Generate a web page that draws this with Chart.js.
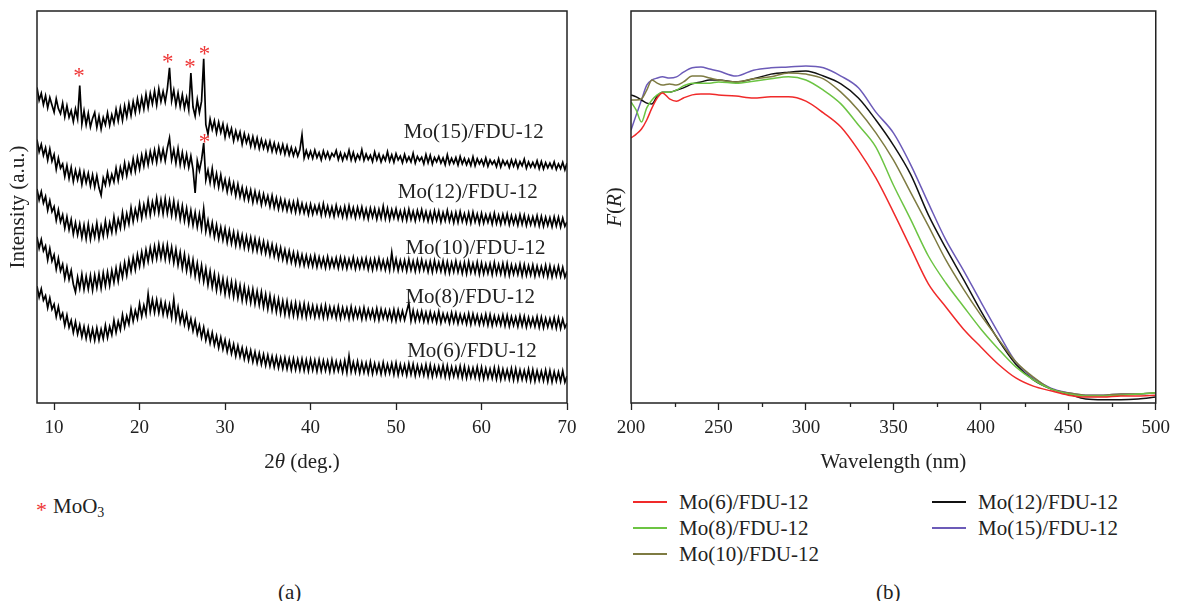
<!DOCTYPE html>
<html>
<head>
<meta charset="utf-8">
<script src="https://cdn.jsdelivr.net/npm/chart.js@4.4.1/dist/chart.umd.min.js"></script>
<style>
  body { margin: 0; background: #fff; width: 1177px; height: 601px; position: relative; overflow: hidden;
         font-family: "Liberation Serif", serif; color: #222; }
  canvas { position: absolute; top: 0; }
  #xrd { left: 0; }
  #uv { left: 600px; }
  .txt { position: absolute; font-size: 21px; line-height: 1; white-space: nowrap; transform: translateY(-50%); }
  .key { position: absolute; width: 34px; height: 2px; transform: translateY(-50%); }
  sub { font-size: 14px; vertical-align: -4px; }
</style>
</head>
<body>
<canvas id="xrd" width="600" height="480"></canvas>
<canvas id="uv" width="577" height="480"></canvas>
<div id="legend-uv"></div>
<div class="txt" style="left:36px;top:510px;color:#ee3535;font-size:22px;">*</div>
<div class="txt" style="left:53px;top:508px;">MoO<sub>3</sub></div>
<div class="txt" style="left:278px;top:592px;">(a)</div>
<div class="txt" style="left:876px;top:592px;">(b)</div>
<script>
// ---- (a) XRD patterns, 2θ every 0.25° ----
const twoTheta = [
  8, 8.25, 8.5, 8.75, 9, 9.25, 9.5, 9.75, 10, 10.25, 10.5, 10.75, 11, 11.25, 11.5, 11.75, 12, 12.25, 12.5, 12.75,
  13, 13.25, 13.5, 13.75, 14, 14.25, 14.5, 14.75, 15, 15.25, 15.5, 15.75, 16, 16.25, 16.5, 16.75, 17, 17.25, 17.5, 17.75,
  18, 18.25, 18.5, 18.75, 19, 19.25, 19.5, 19.75, 20, 20.25, 20.5, 20.75, 21, 21.25, 21.5, 21.75, 22, 22.25, 22.5, 22.75,
  23, 23.25, 23.5, 23.75, 24, 24.25, 24.5, 24.75, 25, 25.25, 25.5, 25.75, 26, 26.25, 26.5, 26.75, 27, 27.25, 27.5, 27.75,
  28, 28.25, 28.5, 28.75, 29, 29.25, 29.5, 29.75, 30, 30.25, 30.5, 30.75, 31, 31.25, 31.5, 31.75, 32, 32.25, 32.5, 32.75,
  33, 33.25, 33.5, 33.75, 34, 34.25, 34.5, 34.75, 35, 35.25, 35.5, 35.75, 36, 36.25, 36.5, 36.75, 37, 37.25, 37.5, 37.75,
  38, 38.25, 38.5, 38.75, 39, 39.25, 39.5, 39.75, 40, 40.25, 40.5, 40.75, 41, 41.25, 41.5, 41.75, 42, 42.25, 42.5, 42.75,
  43, 43.25, 43.5, 43.75, 44, 44.25, 44.5, 44.75, 45, 45.25, 45.5, 45.75, 46, 46.25, 46.5, 46.75, 47, 47.25, 47.5, 47.75,
  48, 48.25, 48.5, 48.75, 49, 49.25, 49.5, 49.75, 50, 50.25, 50.5, 50.75, 51, 51.25, 51.5, 51.75, 52, 52.25, 52.5, 52.75,
  53, 53.25, 53.5, 53.75, 54, 54.25, 54.5, 54.75, 55, 55.25, 55.5, 55.75, 56, 56.25, 56.5, 56.75, 57, 57.25, 57.5, 57.75,
  58, 58.25, 58.5, 58.75, 59, 59.25, 59.5, 59.75, 60, 60.25, 60.5, 60.75, 61, 61.25, 61.5, 61.75, 62, 62.25, 62.5, 62.75,
  63, 63.25, 63.5, 63.75, 64, 64.25, 64.5, 64.75, 65, 65.25, 65.5, 65.75, 66, 66.25, 66.5, 66.75, 67, 67.25, 67.5, 67.75,
  68, 68.25, 68.5, 68.75, 69, 69.25, 69.5, 69.75, 70];

const mo15 = [
  80.5, 77.2, 79.0, 76.1, 78.4, 75.3, 77.9, 76.0, 74.2, 77.6, 75.1, 73.8, 76.5, 73.0, 75.8, 72.9, 74.6, 71.8, 75.0, 72.5,
  81.0, 71.2, 74.5, 71.0, 73.9, 70.4, 72.6, 74.1, 70.3, 73.2, 69.9, 72.8, 71.0, 74.0, 70.8, 73.5, 71.4, 74.9, 72.0, 75.3,
  72.1, 75.8, 73.0, 76.4, 73.4, 76.9, 74.1, 77.6, 74.6, 77.9, 75.0, 78.8, 75.4, 79.0, 76.3, 79.6, 76.0, 80.1, 76.9, 79.5,
  76.8, 80.2, 85.5, 77.1, 79.8, 76.0, 79.1, 75.6, 78.6, 75.2, 77.9, 74.8, 84.2, 75.5, 73.2, 77.4, 74.1, 77.0, 87.8, 71.0,
  68.6, 72.4, 69.8, 72.0, 68.9, 71.6, 69.0, 71.2, 67.8, 70.6, 68.1, 70.0, 66.9, 69.4, 67.2, 69.1, 66.0, 68.7, 66.4, 68.2,
  65.5, 67.9, 65.3, 67.6, 64.9, 67.2, 65.0, 66.8, 64.5, 66.7, 64.2, 66.3, 64.0, 66.0, 63.8, 65.9, 63.5, 65.6, 63.3, 65.2,
  63.1, 64.9, 63.0, 64.6, 68.4, 62.5, 64.4, 62.6, 64.2, 62.4, 64.5, 62.6, 63.9, 62.0, 64.3, 62.5, 64.0, 62.2, 63.7, 62.9,
  64.4, 62.1, 63.8, 61.9, 63.6, 62.3, 64.5, 62.0, 63.9, 61.8, 63.4, 62.2, 64.6, 61.9, 63.5, 62.1, 63.2, 61.6, 64.0, 62.0,
  63.5, 61.5, 63.1, 61.9, 64.1, 61.7, 63.3, 61.4, 63.6, 62.0, 63.0, 61.3, 63.4, 61.6, 62.8, 61.5, 63.7, 61.2, 62.9, 61.8,
  62.7, 61.0, 63.4, 61.3, 63.2, 60.9, 62.6, 61.5, 62.9, 61.2, 62.5, 60.8, 63.3, 61.0, 62.4, 61.1, 62.6, 60.7, 62.9, 61.0,
  62.4, 60.8, 62.2, 60.6, 62.8, 60.5, 62.3, 61.0, 62.1, 60.6, 62.5, 60.4, 62.0, 60.9, 61.8, 60.3, 62.3, 60.2, 61.9, 60.7,
  61.7, 60.1, 62.0, 60.4, 61.9, 60.0, 61.6, 60.5, 62.2, 59.9, 61.5, 60.2, 61.4, 60.1, 61.8, 59.8, 61.6, 59.7, 61.3, 60.0,
  61.2, 59.9, 61.5, 59.6, 61.0, 59.8, 61.4, 59.5, 61.2];

const mo12 = [
  67.2, 64.1, 66.0, 63.2, 65.1, 62.0, 64.8, 61.7, 63.4, 59.6, 62.5, 59.9, 61.0, 57.8, 60.6, 57.3, 60.1, 56.5, 59.4, 56.9,
  59.3, 55.8, 58.9, 56.2, 58.6, 55.4, 58.2, 55.1, 58.0, 54.9, 53.0, 57.4, 55.6, 58.8, 55.9, 58.3, 56.4, 59.9, 56.8, 60.1,
  57.7, 61.2, 58.0, 61.0, 58.8, 62.3, 59.1, 62.6, 59.7, 63.2, 60.4, 63.8, 60.8, 64.1, 61.5, 64.5, 61.4, 65.0, 62.0, 64.7,
  61.8, 65.1, 67.6, 62.0, 64.6, 61.2, 64.9, 60.8, 63.9, 60.5, 63.4, 60.1, 63.0, 59.6, 53.6, 61.8, 59.3, 62.0, 66.3, 56.9,
  59.4, 56.2, 59.8, 55.6, 58.5, 55.1, 58.2, 54.7, 57.0, 53.9, 56.8, 53.7, 56.1, 52.9, 55.8, 52.6, 55.0, 52.0, 54.6, 51.8,
  54.3, 51.2, 54.0, 51.3, 53.6, 50.6, 53.3, 50.8, 52.8, 50.1, 52.9, 49.9, 52.3, 49.5, 52.0, 49.4, 51.7, 49.1, 51.4, 48.9,
  51.3, 48.7, 51.5, 48.6, 50.9, 48.5, 50.6, 48.1, 50.7, 48.2, 50.3, 48.4, 50.5, 47.9, 50.8, 48.0, 50.2, 47.8, 50.0, 47.6,
  50.4, 47.9, 49.8, 47.5, 50.1, 47.4, 50.3, 47.7, 49.8, 47.3, 49.9, 47.6, 50.0, 47.2, 49.5, 47.0, 49.7, 47.4, 49.6, 46.9,
  49.4, 47.1, 50.2, 47.0, 49.6, 46.8, 49.3, 47.2, 49.5, 46.9, 49.0, 46.7, 49.2, 46.6, 49.4, 46.8, 48.9, 46.5, 49.1, 46.9,
  49.3, 46.7, 48.8, 46.4, 48.7, 46.3, 49.0, 46.6, 48.9, 46.2, 48.6, 46.5, 49.1, 46.4, 48.5, 46.0, 48.6, 46.1, 48.8, 46.3,
  48.3, 46.0, 48.5, 45.9, 48.7, 46.2, 48.2, 45.8, 48.4, 45.9, 48.0, 46.1, 48.1, 45.7, 48.4, 45.8, 47.9, 45.6, 48.1, 45.9,
  48.2, 45.5, 47.8, 45.7, 47.7, 45.4, 48.0, 45.6, 47.9, 45.3, 47.6, 45.5, 47.5, 45.4, 47.8, 45.2, 47.6, 45.1, 47.4, 45.3,
  47.3, 45.0, 47.5, 45.2, 47.4, 44.9, 47.2, 45.1, 46.2];

const mo10 = [
  54.6, 51.8, 53.9, 51.0, 52.7, 49.2, 51.6, 48.8, 50.1, 46.6, 49.3, 46.2, 48.0, 44.6, 47.5, 44.2, 46.8, 43.1, 46.0, 42.9,
  45.7, 42.2, 45.4, 41.9, 45.6, 41.8, 45.0, 42.3, 45.9, 42.0, 45.2, 42.6, 46.4, 42.9, 46.0, 43.5, 47.5, 43.8, 46.9, 44.6,
  48.6, 45.0, 48.3, 45.7, 49.8, 46.3, 49.4, 47.0, 50.8, 47.2, 50.6, 47.9, 51.7, 48.0, 51.3, 48.6, 52.3, 48.5, 51.8, 48.3,
  52.1, 48.4, 51.6, 47.9, 51.5, 47.6, 50.8, 46.9, 50.3, 46.5, 49.7, 45.8, 49.1, 45.4, 48.6, 44.9, 48.2, 44.5, 49.5, 43.8,
  46.6, 43.1, 46.0, 42.4, 45.4, 41.9, 44.8, 41.6, 44.5, 41.0, 44.0, 40.7, 43.6, 40.2, 43.3, 40.0, 42.8, 39.6, 42.5, 39.4,
  42.2, 39.0, 41.9, 38.8, 41.6, 38.5, 41.2, 38.2, 40.8, 37.7, 40.4, 37.4, 40.0, 36.9, 39.6, 36.6, 39.1, 36.1, 38.8, 35.9,
  38.4, 35.5, 38.2, 35.3, 37.8, 35.1, 37.6, 35.0, 37.4, 34.9, 37.6, 34.7, 37.2, 34.8, 37.0, 34.5, 37.3, 34.6, 36.8, 34.7,
  37.0, 34.4, 37.1, 34.5, 36.9, 34.3, 36.7, 34.6, 37.1, 34.2, 36.6, 34.4, 36.8, 34.5, 36.9, 34.1, 36.6, 34.0, 36.7, 34.3,
  36.9, 34.2, 36.4, 34.0, 36.5, 33.9, 38.4, 34.2, 36.7, 33.8, 36.3, 34.0, 36.4, 33.7, 36.6, 33.9, 36.2, 33.6, 36.4, 33.8,
  36.5, 33.9, 36.0, 33.5, 36.1, 33.4, 36.3, 33.7, 35.9, 33.6, 36.2, 33.3, 36.0, 33.2, 35.8, 33.5, 36.2, 33.4, 35.7, 33.1,
  35.8, 33.0, 36.0, 33.3, 35.6, 33.2, 35.9, 32.9, 35.7, 33.0, 35.4, 33.1, 35.5, 32.8, 35.8, 33.0, 35.3, 32.9, 35.6, 32.7,
  35.6, 32.6, 35.2, 32.9, 35.1, 32.8, 35.4, 32.5, 35.3, 32.6, 35.0, 32.7, 35.2, 32.4, 34.9, 32.6, 34.8, 32.5, 35.1, 32.3,
  35.0, 32.2, 34.7, 32.4, 34.9, 32.3, 34.6, 32.1, 33.6];

const mo8 = [
  42.4, 39.5, 41.7, 38.8, 40.1, 36.5, 39.4, 36.2, 37.8, 34.1, 36.9, 33.7, 35.4, 31.8, 34.7, 31.5, 33.8, 30.3, 28.3, 32.1,
  29.2, 32.8, 29.0, 32.3, 29.1, 32.5, 28.8, 32.6, 29.4, 32.9, 29.3, 33.2, 29.9, 33.4, 30.0, 33.8, 30.8, 34.4, 31.1, 35.0,
  32.1, 35.8, 32.6, 36.5, 33.6, 37.1, 34.0, 37.8, 34.9, 38.5, 35.3, 39.1, 36.1, 39.6, 36.5, 40.0, 36.8, 40.4, 37.0, 40.2,
  36.7, 40.3, 36.5, 39.7, 35.8, 39.2, 35.2, 38.4, 34.4, 37.9, 33.8, 37.0, 33.0, 36.5, 32.4, 35.6, 31.6, 35.1, 31.0, 34.3,
  30.1, 33.6, 29.6, 32.9, 28.8, 32.3, 28.5, 31.7, 27.8, 31.3, 27.6, 30.9, 27.1, 30.6, 26.8, 30.0, 26.2, 29.7, 26.0, 29.1,
  25.6, 29.0, 25.3, 28.5, 25.0, 28.3, 24.5, 27.7, 24.0, 27.4, 23.7, 26.8, 23.3, 26.5, 22.9, 26.0, 22.6, 25.9, 22.4, 25.4,
  22.3, 25.5, 22.1, 25.2, 22.1, 25.3, 21.9, 25.0, 22.2, 24.8, 21.9, 24.6, 22.0, 24.7, 21.8, 24.9, 21.8, 24.5, 22.1, 24.4,
  21.7, 24.6, 21.6, 24.3, 21.9, 24.2, 21.5, 24.5, 21.6, 24.1, 21.8, 24.0, 21.4, 24.3, 21.5, 23.9, 21.7, 23.8, 21.3, 24.1,
  21.2, 23.9, 21.6, 23.7, 21.4, 23.6, 21.1, 23.8, 21.0, 23.7, 21.3, 23.5, 21.2, 23.4, 25.5, 21.0, 23.6, 20.9, 23.3, 21.1,
  23.4, 20.8, 23.1, 20.7, 23.2, 20.9, 22.9, 20.6, 23.3, 20.5, 22.8, 20.8, 22.7, 20.4, 23.0, 20.6, 22.9, 20.3, 22.6, 20.5,
  22.5, 20.2, 22.8, 20.1, 22.7, 20.3, 22.4, 20.0, 22.3, 20.1, 22.6, 19.9, 22.5, 19.8, 22.2, 20.0, 22.1, 19.9, 22.4, 19.7,
  22.3, 19.6, 22.0, 19.8, 21.9, 19.5, 22.2, 19.7, 22.1, 19.4, 21.8, 19.6, 21.7, 19.5, 22.0, 19.3, 21.9, 19.2, 21.6, 19.4,
  21.5, 19.3, 21.8, 19.1, 21.7, 19.0, 21.4, 19.2, 20.4];

const mo6 = [
  29.8, 27.0, 29.1, 26.2, 27.4, 24.3, 26.8, 23.9, 25.2, 22.0, 24.6, 21.6, 22.9, 19.8, 22.4, 19.3, 21.1, 18.0, 20.7, 17.6,
  19.9, 16.9, 19.5, 16.5, 19.3, 16.2, 18.9, 16.0, 19.1, 16.1, 18.8, 16.4, 19.8, 16.7, 19.5, 17.4, 21.1, 18.0, 20.8, 18.7,
  22.5, 19.4, 22.2, 20.1, 24.0, 20.9, 23.6, 21.5, 25.3, 22.1, 24.9, 22.6, 27.8, 23.3, 26.4, 23.1, 26.3, 23.0, 25.9, 22.6,
  25.5, 22.4, 25.1, 21.8, 26.5, 21.3, 24.4, 20.6, 23.1, 20.0, 22.6, 19.2, 21.5, 18.4, 21.0, 17.6, 19.8, 16.7, 19.3, 16.0,
  18.3, 15.3, 17.9, 14.8, 17.1, 14.1, 16.7, 13.7, 16.1, 13.1, 15.6, 12.6, 15.0, 12.0, 14.6, 11.8, 14.1, 11.2, 13.7, 10.9,
  13.4, 10.5, 13.0, 10.2, 12.7, 9.9, 12.4, 9.6, 12.2, 9.4, 11.9, 9.2, 11.8, 9.0, 11.5, 8.8, 11.5, 8.7, 11.3, 8.5,
  11.3, 8.5, 11.1, 8.4, 11.2, 8.3, 11.0, 8.2, 11.1, 8.4, 10.9, 8.1, 11.0, 8.2, 10.8, 8.3, 10.7, 8.0, 11.0, 8.1,
  10.6, 8.2, 10.5, 7.9, 10.8, 7.8, 12.0, 8.0, 10.4, 7.9, 10.6, 7.7, 10.3, 7.8, 10.2, 7.6, 10.5, 7.5, 10.1, 7.7,
  10.0, 7.4, 10.3, 7.5, 9.9, 7.6, 10.1, 7.3, 10.2, 7.2, 9.8, 7.4, 9.7, 7.1, 10.0, 7.3, 9.9, 7.0, 9.6, 7.2,
  9.5, 7.1, 9.8, 6.9, 9.7, 6.8, 9.4, 7.0, 9.3, 6.9, 9.6, 6.7, 9.5, 6.6, 9.2, 6.8, 9.1, 6.7, 9.4, 6.5,
  9.3, 6.4, 9.0, 6.6, 8.9, 6.5, 9.2, 6.3, 9.1, 6.2, 8.8, 6.4, 8.7, 6.3, 9.0, 6.1, 8.9, 6.0, 8.6, 6.2,
  8.5, 6.1, 8.8, 5.9, 8.7, 5.8, 8.4, 6.0, 8.3, 5.9, 8.6, 5.7, 8.5, 5.6, 8.2, 5.8, 8.1, 5.7, 8.4, 5.5,
  8.3, 5.4, 8.0, 5.6, 7.9, 5.5, 8.2, 5.3, 6.9];

const xrdSeries = [mo15, mo12, mo10, mo8, mo6];
const xrdNames = ['Mo(15)/FDU-12', 'Mo(12)/FDU-12', 'Mo(10)/FDU-12', 'Mo(8)/FDU-12', 'Mo(6)/FDU-12'];
const xrdLabelTheta = [50.9, 50.2, 51.1, 51.1, 51.3];
const xrdLabelLevel = [68.9, 53.8, 39.3, 27.0, 13.2];
const xrdTicks = [10, 20, 30, 40, 50, 60, 70];

// MoO3 reflections marked with red asterisks
const starTheta = [12.9, 23.3, 25.9, 27.6, 27.6];
const starLevel = [84.4, 88.0, 86.7, 89.8, 67.6];

// ---- (b) UV-vis spectra ----
const wavelength = [200, 203, 206, 209, 212, 215, 218, 222, 226, 230, 235, 240, 245, 250, 260, 270, 280, 290, 300, 310,
  320, 330, 340, 350, 360, 370, 380, 390, 400, 410, 420, 430, 440, 450, 460, 470, 480, 490, 500];
const uv6 = [67.6, 68.6, 69.9, 72.2, 75.3, 77.8, 79.1, 77.6, 77.0, 77.8, 78.6, 78.8, 78.8, 78.6, 78.3, 77.8, 78.1, 78.1, 77.0, 74.0,
  70.4, 64.5, 57.4, 48.7, 39.5, 30.4, 24.5, 18.9, 14.3, 9.9, 6.4, 4.3, 3.1, 2.0, 1.5, 1.5, 1.8, 1.8, 2.0];
const uv8 = [76.8, 74.7, 71.7, 75.3, 77.3, 78.6, 79.3, 79.3, 79.8, 80.9, 81.6, 81.6, 81.6, 81.9, 81.6, 82.1, 82.7, 83.2, 82.4, 79.8,
  76.3, 70.9, 65.3, 55.6, 46.7, 37.5, 30.6, 24.7, 18.9, 13.8, 9.2, 5.9, 3.6, 2.3, 1.8, 1.8, 2.0, 2.3, 2.6];
const uv10 = [77.3, 77.3, 77.6, 79.8, 82.4, 81.6, 81.1, 81.4, 81.1, 81.9, 83.4, 83.4, 82.9, 82.4, 81.9, 82.7, 83.2, 84.2, 83.9, 82.7,
  79.3, 74.7, 68.9, 62.0, 53.6, 45.2, 36.5, 29.1, 22.4, 16.3, 10.5, 6.6, 3.6, 2.6, 2.0, 2.0, 2.3, 2.3, 2.6];
const uv12 = [78.6, 78.1, 77.3, 76.5, 76.3, 78.3, 79.3, 79.3, 79.8, 80.4, 81.4, 81.9, 82.4, 82.4, 81.9, 82.7, 83.9, 84.4, 84.7, 83.4,
  81.4, 77.8, 72.2, 65.8, 58.2, 48.0, 39.5, 31.6, 23.5, 16.1, 9.9, 5.9, 3.6, 2.3, 1.0, 0.8, 0.8, 1.0, 1.5];
const uv15 = [69.6, 73.5, 77.3, 81.1, 82.4, 82.9, 83.2, 82.9, 83.2, 84.4, 85.5, 85.7, 85.2, 84.7, 83.4, 84.9, 85.5, 85.7, 86.0, 85.5,
  83.4, 80.4, 74.2, 68.9, 60.7, 51.0, 41.6, 33.9, 25.8, 17.9, 10.5, 6.4, 3.8, 2.6, 2.0, 2.0, 2.3, 2.3, 2.6];

const uvSeries = [uv6, uv8, uv10, uv12, uv15];
const uvNames = ['Mo(6)/FDU-12', 'Mo(8)/FDU-12', 'Mo(10)/FDU-12', 'Mo(12)/FDU-12', 'Mo(15)/FDU-12'];
const uvColors = ['#f02a2a', '#6cc443', '#7e7b42', '#111111', '#6c5bb8'];
const uvTicks = [200, 250, 300, 350, 400, 450, 500];
const uvMinorTicks = [225, 275, 325, 375, 425, 475];

const FONT = '"Liberation Serif", serif';
Chart.defaults.font.family = FONT;
Chart.defaults.color = '#222';

function drawRuns(ctx, runs, cx, cy, rotate) {
  ctx.save();
  ctx.translate(cx, cy);
  if (rotate) ctx.rotate(-Math.PI / 2);
  ctx.textBaseline = 'middle';
  ctx.fillStyle = '#222';
  let total = 0;
  runs.forEach(r => { ctx.font = (r[1] ? 'italic ' : '') + '21px ' + FONT; total += ctx.measureText(r[0]).width; });
  let x = -total / 2;
  runs.forEach(r => {
    ctx.font = (r[1] ? 'italic ' : '') + '21px ' + FONT;
    ctx.fillText(r[0], x, 0);
    x += ctx.measureText(r[0]).width;
  });
  ctx.restore();
}

// frame + axis titles
const decor = {
  id: 'decor',
  afterDraw(chart, args, opts) {
    const { ctx, chartArea: a } = chart;
    ctx.save();
    ctx.strokeStyle = '#222';
    ctx.lineWidth = 1.5;
    ctx.strokeRect(a.left, a.top, a.right - a.left, a.bottom - a.top);
    ctx.restore();
    drawRuns(ctx, opts.xTitle, (a.left + a.right) / 2, 462, false);
    drawRuns(ctx, opts.yTitle, opts.yTitleX, (a.top + a.bottom) / 2, true);
  }
};

const xrdMarks = {
  id: 'xrdMarks',
  afterDatasetsDraw(chart) {
    const { ctx } = chart;
    const xs = chart.scales.x, ys = chart.scales.y;
    ctx.save();
    ctx.font = '23px ' + FONT;
    ctx.fillStyle = '#ee3535';
    ctx.textAlign = 'center';
    const m = ctx.measureText('*');
    const off = (m.actualBoundingBoxAscent - m.actualBoundingBoxDescent) / 2;
    starTheta.forEach((t, i) => ctx.fillText('*', xs.getPixelForValue(t), ys.getPixelForValue(starLevel[i]) + off));
    ctx.font = '21px ' + FONT;
    ctx.fillStyle = '#222';
    ctx.textAlign = 'left';
    ctx.textBaseline = 'middle';
    xrdNames.forEach((n, i) => {
      ctx.fillText(n, xs.getPixelForValue(xrdLabelTheta[i]), ys.getPixelForValue(xrdLabelLevel[i]));
    });
    ctx.restore();
  }
};

const minorTicks = {
  id: 'minorTicks',
  afterDraw(chart) {
    const { ctx } = chart;
    const xs = chart.scales.x;
    const y0 = chart.chartArea.bottom;
    ctx.save();
    ctx.strokeStyle = '#222';
    ctx.lineWidth = 1.3;
    uvMinorTicks.forEach(v => {
      const x = Math.round(xs.getPixelForValue(v)) + 0.5;
      ctx.beginPath(); ctx.moveTo(x, y0); ctx.lineTo(x, y0 + 4); ctx.stroke();
    });
    ctx.restore();
  }
};

function xAxis(min, max, ticks, height) {
  return {
    type: 'linear', min: min, max: max,
    afterBuildTicks: s => { s.ticks = ticks.map(v => ({ value: v })); },
    afterFit: s => { s.height = height; },
    grid: { display: true, drawOnChartArea: false, drawTicks: true, tickLength: 7, tickColor: '#222', tickWidth: 1.3 },
    border: { display: false },
    ticks: { padding: 7, font: { size: 19 }, color: '#222', maxRotation: 0, autoSkip: false }
  };
}

function yAxis(width) {
  return {
    min: 0, max: 100,
    afterFit: s => { s.width = width; },
    ticks: { display: false },
    grid: { display: false },
    border: { display: false }
  };
}

new Chart(document.getElementById('xrd'), {
  type: 'line',
  data: {
    datasets: xrdSeries.map((s, i) => ({
      label: xrdNames[i],
      data: twoTheta.map((t, j) => ({ x: t, y: s[j] })),
      borderColor: '#000',
      borderWidth: 1.7,
      pointRadius: 0,
      tension: 0
    }))
  },
  options: {
    responsive: false,
    animation: false,
    devicePixelRatio: 1,
    layout: { padding: { top: 11, right: 33, left: 0, bottom: 0 } },
    plugins: {
      legend: { display: false },
      tooltip: { enabled: false },
      decor: { xTitle: [['2', false], ['θ', true], [' (deg.)', false]], yTitle: [['Intensity (a.u.)', false]], yTitleX: 18 }
    },
    scales: { x: xAxis(8, 70, xrdTicks, 77), y: yAxis(37) }
  },
  plugins: [decor, xrdMarks]
});

const uvChart = new Chart(document.getElementById('uv'), {
  type: 'line',
  data: {
    datasets: uvSeries.map((s, i) => ({
      label: uvNames[i],
      data: wavelength.map((w, j) => ({ x: w, y: s[j] })),
      borderColor: uvColors[i],
      borderWidth: 1.5,
      pointRadius: 0,
      cubicInterpolationMode: 'monotone'
    }))
  },
  options: {
    responsive: false,
    animation: false,
    devicePixelRatio: 1,
    layout: { padding: { top: 11, right: 17, left: 0, bottom: 0 } },
    plugins: {
      legend: { display: false },
      tooltip: { enabled: false },
      decor: { xTitle: [['Wavelength (nm)', false]], yTitle: [['F', true], ['(', false], ['R', true], [')', false]], yTitleX: 15 }
    },
    scales: { x: xAxis(200, 500, uvTicks, 77), y: yAxis(31) }
  },
  plugins: [decor, minorTicks]
});

// legend of (b): two columns, filled top to bottom
const legendBox = document.getElementById('legend-uv');
const colX = [633, 932];
const rowY = [502, 528, 554];
uvChart.data.datasets.forEach((ds, i) => {
  const col = i < 3 ? 0 : 1;
  const row = i < 3 ? i : i - 3;
  const key = document.createElement('div');
  key.className = 'key';
  key.style.left = colX[col] + 'px';
  key.style.top = rowY[row] + 'px';
  key.style.background = ds.borderColor;
  legendBox.appendChild(key);
  const t = document.createElement('div');
  t.className = 'txt';
  t.style.left = (colX[col] + 46) + 'px';
  t.style.top = rowY[row] + 'px';
  t.textContent = ds.label;
  legendBox.appendChild(t);
});
</script>
</body>
</html>
